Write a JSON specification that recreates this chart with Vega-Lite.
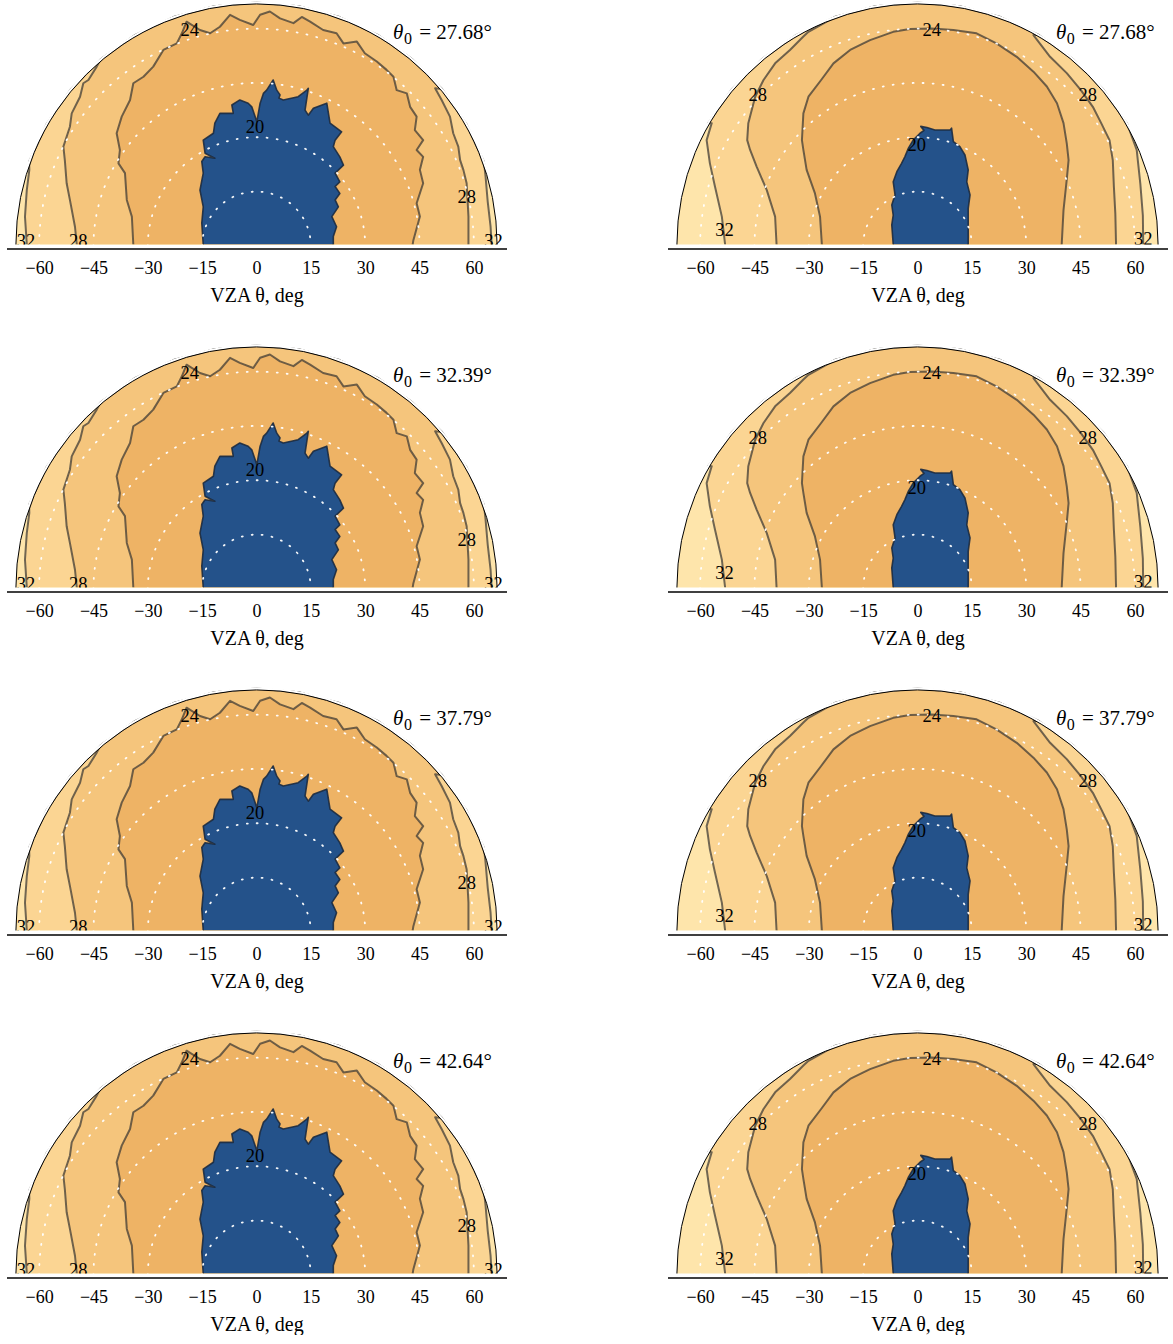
{
"$schema": "https://vega.github.io/schema/vega-lite/v6.json",
"padding": {"left": 6.5, "top": 1.5, "right": 0, "bottom": 0},
"background": "white",
"config": {
  "view": {"stroke": null},
  "font": "Liberation Serif",
  "axis": {"labelFontSize": 18, "labelColor": "black", "titleFontSize": 20, "titleFontWeight": "normal", "titleColor": "black", "domainColor": "black", "domainWidth": 1.5, "ticks": false, "grid": false, "labelPadding": 11, "titlePadding": 8, "labelFlush": false}
},
"datasets": {
  "one": [{"R": 66.4, "M": 67.05}],
  "rings": [{"r": 15}, {"r": 30}, {"r": 45}, {"r": 60}],
  "th": [{"v1": "= 27.68°", "v2": "= 32.39°", "v3": "= 37.79°", "v4": "= 42.64°", "w1": "= 27.68°", "w2": "= 32.39°", "w3": "= 37.79°", "w4": "= 42.64°"}],
  "L32": [{"x":-63.4,"y":0},{"x":-63.9,"y":7.7},{"x":-63.4,"y":15.0},{"x":-62.7,"y":20.6},{"x":-62.77,"y":22.85},{"x":-57.85,"y":33.4},{"x":-51.17,"y":42.94},{"x":-42.94,"y":51.17},{"x":-33.4,"y":57.85},{"x":-22.85,"y":62.77},{"x":-11.6,"y":65.79},{"x":0,"y":66.8},{"x":11.6,"y":65.79},{"x":22.85,"y":62.77},{"x":33.4,"y":57.85},{"x":42.94,"y":51.17},{"x":51.17,"y":42.94},{"x":57.85,"y":33.4},{"x":62.77,"y":22.85},{"x":63.2,"y":19},{"x":63.8,"y":12},{"x":64.6,"y":5},{"x":64.9,"y":0}],
  "L28": [{"x":-49.6,"y":0},{"x":-50.1,"y":4.9},{"x":-51.5,"y":12.3},{"x":-52.4,"y":16.9},{"x":-52.9,"y":23.3},{"x":-53.3,"y":27.0},{"x":-51.5,"y":32.5},{"x":-51.0,"y":36.2},{"x":-48.7,"y":40.8},{"x":-47.8,"y":44.5},{"x":-46.4,"y":45.4},{"x":-44.1,"y":49.1},{"x":-42.94,"y":51.17},{"x":-33.4,"y":57.85},{"x":-22.85,"y":62.77},{"x":-11.6,"y":65.79},{"x":0,"y":66.8},{"x":11.6,"y":65.79},{"x":22.85,"y":62.77},{"x":33.4,"y":57.85},{"x":42.94,"y":51.17},{"x":51.17,"y":42.94},{"x":49.3,"y":43.1},{"x":51.1,"y":39.9},{"x":53.4,"y":35.3},{"x":54.3,"y":30.7},{"x":55.7,"y":27.0},{"x":56.2,"y":23.3},{"x":57.1,"y":20.6},{"x":58.0,"y":16.9},{"x":58.5,"y":7.7},{"x":58.5,"y":0}],
  "L24": [{"x":-34.0,"y":0},{"x":-34.4,"y":7.7},{"x":-35.8,"y":12.3},{"x":-36.3,"y":19.7},{"x":-38.1,"y":22.4},{"x":-37.7,"y":26.1},{"x":-38.6,"y":30.7},{"x":-37.2,"y":35.3},{"x":-34.9,"y":39.9},{"x":-34.0,"y":44.5},{"x":-31.2,"y":46.3},{"x":-28.5,"y":49.1},{"x":-25.7,"y":53.7},{"x":-22.0,"y":55.5},{"x":-20.6,"y":58.3},{"x":-19.3,"y":61.5},{"x":-15.6,"y":59.2},{"x":-12.8,"y":58.3},{"x":-10.1,"y":60.1},{"x":-7.3,"y":63.4},{"x":-4.6,"y":62.0},{"x":-0.9,"y":60.6},{"x":1.0,"y":63.4},{"x":3.7,"y":64.3},{"x":6.5,"y":62.4},{"x":10.2,"y":61.1},{"x":12.5,"y":62.8},{"x":14.8,"y":61.5},{"x":18.4,"y":59.2},{"x":22.1,"y":58.3},{"x":24.0,"y":55.5},{"x":27.7,"y":56.0},{"x":29.9,"y":52.8},{"x":33.2,"y":50.5},{"x":35.9,"y":48.2},{"x":37.8,"y":46.3},{"x":38.7,"y":42.6},{"x":41.5,"y":41.7},{"x":42.4,"y":38.0},{"x":44.2,"y":35.3},{"x":43.7,"y":31.6},{"x":46.0,"y":28.8},{"x":44.2,"y":26.1},{"x":46.0,"y":24.2},{"x":45.1,"y":20.6},{"x":46.0,"y":16.9},{"x":44.2,"y":11.4},{"x":45.1,"y":7.7},{"x":43.3,"y":1.2},{"x":43.1,"y":0}],
  "L20": [{"x":-14.7,"y":0},{"x":-15.1,"y":5.9},{"x":-14.7,"y":10.4},{"x":-15.6,"y":15.0},{"x":-14.7,"y":19.7},{"x":-15.1,"y":22.9},{"x":-14.2,"y":24.2},{"x":-11.5,"y":23.8},{"x":-14.2,"y":25.2},{"x":-14.7,"y":28.8},{"x":-11.9,"y":30.7},{"x":-11.5,"y":33.5},{"x":-10.1,"y":36.2},{"x":-6.4,"y":36.2},{"x":-6.8,"y":38.5},{"x":-4.6,"y":39.9},{"x":-2.3,"y":39.0},{"x":-1.3,"y":38.0},{"x":0.1,"y":33.9},{"x":1.0,"y":39.0},{"x":1.9,"y":41.7},{"x":2.8,"y":42.6},{"x":4.6,"y":45.4},{"x":5.6,"y":42.6},{"x":6.5,"y":41.3},{"x":6.2,"y":40.4},{"x":7.4,"y":39.9},{"x":11.5,"y":40.8},{"x":13.9,"y":42.6},{"x":14.3,"y":43.1},{"x":13.4,"y":37.1},{"x":14.3,"y":35.7},{"x":15.7,"y":37.6},{"x":19.4,"y":39.0},{"x":20.3,"y":33.5},{"x":23.5,"y":31.1},{"x":21.7,"y":28.8},{"x":21.2,"y":27.0},{"x":23.0,"y":24.2},{"x":24.0,"y":21.9},{"x":21.7,"y":19.7},{"x":23.0,"y":17.3},{"x":21.7,"y":16.0},{"x":23.0,"y":14.1},{"x":21.7,"y":12.3},{"x":22.6,"y":10.4},{"x":20.8,"y":7.7},{"x":22.1,"y":4.9},{"x":21.2,"y":2.2},{"x":21.2,"y":0}],
  "Llab": [{"x":-18.4,"y":59.2,"t":"24"},{"x":-0.4,"y":32.5,"t":"20"},{"x":58.0,"y":13.2,"t":"28"},{"x":-49.2,"y":0.9,"t":"28"},{"x":-63.6,"y":0.9,"t":"32"},{"x":65.4,"y":0.9,"t":"32"}],
  "R32": [{"x":-53.1,"y":0},{"x":-54.0,"y":7.7},{"x":-55.9,"y":16.0},{"x":-57.3,"y":22.4},{"x":-58.2,"y":28.8},{"x":-56.8,"y":33.5},{"x":-57.85,"y":33.4},{"x":-51.17,"y":42.94},{"x":-42.94,"y":51.17},{"x":-33.4,"y":57.85},{"x":-22.85,"y":62.77},{"x":-11.6,"y":65.79},{"x":0,"y":66.8},{"x":11.6,"y":65.79},{"x":22.85,"y":62.77},{"x":33.4,"y":57.85},{"x":42.94,"y":51.17},{"x":51.17,"y":42.94},{"x":57.85,"y":33.4},{"x":60.5,"y":26.1},{"x":61.5,"y":16.8},{"x":62.2,"y":8},{"x":62.3,"y":0}],
  "R28": [{"x":-38.9,"y":0},{"x":-39.3,"y":7.7},{"x":-41.6,"y":15.0},{"x":-44.4,"y":21.5},{"x":-46.2,"y":26.1},{"x":-47.0,"y":28.8},{"x":-46.7,"y":33.5},{"x":-44.8,"y":40.8},{"x":-42.5,"y":45.4},{"x":-39.3,"y":50.0},{"x":-35.2,"y":53.7},{"x":-31.5,"y":57.4},{"x":-30.1,"y":58.7},{"x":-22.85,"y":62.77},{"x":-11.6,"y":65.79},{"x":0,"y":66.8},{"x":11.6,"y":65.79},{"x":22.85,"y":62.77},{"x":33.4,"y":57.85},{"x":32.0,"y":57.8},{"x":36.6,"y":51.8},{"x":41.2,"y":47.3},{"x":45.1,"y":42.6},{"x":48.4,"y":38.0},{"x":50.7,"y":33.5},{"x":53.0,"y":28.8},{"x":53.9,"y":23.3},{"x":54.2,"y":16},{"x":54.6,"y":8.6},{"x":54.8,"y":0}],
  "R24": [{"x":-26.4,"y":0},{"x":-26.9,"y":7.7},{"x":-28.3,"y":14.1},{"x":-30.6,"y":20.6},{"x":-31.5,"y":26.1},{"x":-31.9,"y":28.8},{"x":-31.5,"y":36.2},{"x":-30.1,"y":40.8},{"x":-26.6,"y":45.4},{"x":-23.2,"y":50.0},{"x":-18.6,"y":53.7},{"x":-13.1,"y":56.4},{"x":-6.7,"y":58.7},{"x":-2.1,"y":59.5},{"x":3.9,"y":59.6},{"x":9.9,"y":59.2},{"x":16.3,"y":58.3},{"x":21.8,"y":55.5},{"x":27.4,"y":51.8},{"x":32.0,"y":47.7},{"x":35.7,"y":43.6},{"x":38.5,"y":39.0},{"x":40.3,"y":33.5},{"x":41.2,"y":27.9},{"x":41.7,"y":23.3},{"x":41.2,"y":18},{"x":40.3,"y":9.5},{"x":39.8,"y":0}],
  "R20": [{"x":-6.7,"y":0},{"x":-7.1,"y":5.4},{"x":-6.7,"y":8.1},{"x":-7.1,"y":10.9},{"x":-6.2,"y":13.7},{"x":-6.7,"y":17.3},{"x":-5.7,"y":20.1},{"x":-4.4,"y":22.4},{"x":-3.5,"y":24.2},{"x":-2.5,"y":26.6},{"x":-1.2,"y":28.8},{"x":0.7,"y":30.7},{"x":1.8,"y":31.5},{"x":0.9,"y":32.6},{"x":2.6,"y":32.3},{"x":4.8,"y":31.6},{"x":9.0,"y":31.6},{"x":9.4,"y":32.1},{"x":9.9,"y":28.4},{"x":11.7,"y":27.0},{"x":13.1,"y":24.7},{"x":14.0,"y":20.6},{"x":13.6,"y":17.3},{"x":14.5,"y":13.7},{"x":14.0,"y":10.0},{"x":14.0,"y":5.4},{"x":14.0,"y":0}],
  "Rlab": [{"x":3.9,"y":59.2,"t":"24"},{"x":-0.2,"y":27.5,"t":"20"},{"x":-44.1,"y":41.2,"t":"28"},{"x":47.0,"y":41.3,"t":"28"},{"x":-53.3,"y":4.0,"t":"32"},{"x":62.3,"y":1.5,"t":"32"}]
},
"hconcat": [
{
  "repeat": {"row": ["v1", "v2", "v3", "v4"]},
  "spacing": 100,
  "bounds": "flush",
  "spec": {
    "width": 500, "height": 243,
    "layer": [
      {"data": {"name": "one"}, "mark": {"type": "arc", "theta": -1.5707963, "theta2": 1.5707963, "fill": "#FEE5AB"},
       "encoding": {"x": {"datum": 0, "type": "quantitative", "scale": {"domain": [-69, 69]}, "axis": {"values": [-60,-45,-30,-15,0,15,30,45,60], "title": "VZA θ, deg", "offset": 4}}, "y": {"datum": 0, "type": "quantitative", "scale": {"domain": [0, 67.07]}, "axis": null}, "radius": {"field": "R", "type": "quantitative", "stack": null, "scale": {"type": "linear", "domain": [0, 69], "range": [0, 250]}}}},
      {"data": {"name": "L32"}, "mark": {"type": "line", "fill": "#FBD593", "stroke": "#3a3733", "strokeWidth": 2, "strokeOpacity": 0.72, "strokeJoin": "round", "clip": true},
       "encoding": {"x": {"field": "x", "type": "quantitative", "scale": {"domain": [-69, 69]}, "axis": {"values": [-60,-45,-30,-15,0,15,30,45,60], "title": "VZA θ, deg", "offset": 4}}, "y": {"field": "y", "type": "quantitative", "scale": {"domain": [0, 67.07]}, "axis": null}, "order": {"value": null}}},
      {"data": {"name": "L28"}, "mark": {"type": "line", "fill": "#F5C57C", "stroke": "#3a3733", "strokeWidth": 2, "strokeOpacity": 0.72, "strokeJoin": "round", "clip": true},
       "encoding": {"x": {"field": "x", "type": "quantitative", "scale": {"domain": [-69, 69]}, "axis": {"values": [-60,-45,-30,-15,0,15,30,45,60], "title": "VZA θ, deg", "offset": 4}}, "y": {"field": "y", "type": "quantitative", "scale": {"domain": [0, 67.07]}, "axis": null}, "order": {"value": null}}},
      {"data": {"name": "L24"}, "mark": {"type": "line", "fill": "#EEB365", "stroke": "#3a3733", "strokeWidth": 2, "strokeOpacity": 0.72, "strokeJoin": "round", "clip": true},
       "encoding": {"x": {"field": "x", "type": "quantitative", "scale": {"domain": [-69, 69]}, "axis": {"values": [-60,-45,-30,-15,0,15,30,45,60], "title": "VZA θ, deg", "offset": 4}}, "y": {"field": "y", "type": "quantitative", "scale": {"domain": [0, 67.07]}, "axis": null}, "order": {"value": null}}},
      {"data": {"name": "L20"}, "mark": {"type": "line", "fill": "#24528A", "stroke": "#1c2b40", "strokeWidth": 1.6, "strokeOpacity": 0.9, "strokeJoin": "round", "clip": true},
       "encoding": {"x": {"field": "x", "type": "quantitative", "scale": {"domain": [-69, 69]}, "axis": {"values": [-60,-45,-30,-15,0,15,30,45,60], "title": "VZA θ, deg", "offset": 4}}, "y": {"field": "y", "type": "quantitative", "scale": {"domain": [0, 67.07]}, "axis": null}, "order": {"value": null}}},
      {"data": {"name": "rings"}, "mark": {"type": "arc", "theta": -1.5707963, "theta2": 1.5707963, "filled": false, "stroke": "white", "strokeWidth": 1.8, "strokeCap": "round", "strokeDash": [1, 9.0433], "strokeOpacity": 0.95, "clip": true},
       "encoding": {"x": {"datum": 0, "type": "quantitative", "scale": {"domain": [-69, 69]}, "axis": {"values": [-60,-45,-30,-15,0,15,30,45,60], "title": "VZA θ, deg", "offset": 4}}, "y": {"datum": -0.4, "type": "quantitative", "scale": {"domain": [0, 67.07]}, "axis": null}, "radius": {"field": "r", "type": "quantitative", "stack": null, "scale": {"type": "linear", "domain": [0, 69], "range": [0, 250]}}}},
      {"data": {"name": "one"}, "mark": {"type": "arc", "theta": -1.5707963, "theta2": 1.5707963, "fill": "white"},
       "encoding": {"x": {"datum": 0, "type": "quantitative", "scale": {"domain": [-69, 69]}, "axis": {"values": [-60,-45,-30,-15,0,15,30,45,60], "title": "VZA θ, deg", "offset": 4}}, "y": {"datum": 0, "type": "quantitative", "scale": {"domain": [0, 67.07]}, "axis": null}, "radius": {"field": "M", "type": "quantitative", "stack": null, "scale": {"type": "linear", "domain": [0, 69], "range": [0, 250]}}, "radius2": {"field": "R"}}},
      {"data": {"name": "one"}, "mark": {"type": "arc", "theta": 0, "theta2": 7, "filled": false, "stroke": "black", "strokeWidth": 1, "clip": true},
       "encoding": {"x": {"datum": 0, "type": "quantitative", "scale": {"domain": [-69, 69]}, "axis": {"values": [-60,-45,-30,-15,0,15,30,45,60], "title": "VZA θ, deg", "offset": 4}}, "y": {"datum": 0, "type": "quantitative", "scale": {"domain": [0, 67.07]}, "axis": null}, "radius": {"field": "R", "type": "quantitative", "stack": null, "scale": {"type": "linear", "domain": [0, 69], "range": [0, 250]}}}},
      {"data": {"name": "Llab"}, "mark": {"type": "text", "fontSize": 18.5, "baseline": "middle", "align": "center", "color": "black", "clip": true},
       "encoding": {"x": {"field": "x", "type": "quantitative", "scale": {"domain": [-69, 69]}, "axis": {"values": [-60,-45,-30,-15,0,15,30,45,60], "title": "VZA θ, deg", "offset": 4}}, "y": {"field": "y", "type": "quantitative", "scale": {"domain": [0, 67.07]}, "axis": null}, "text": {"field": "t"}}},
      {"data": {"name": "th"}, "mark": {"type": "text", "text": "θ", "fontStyle": "italic", "fontSize": 21, "align": "left", "baseline": "alphabetic", "color": "black"},
       "encoding": {"x": {"datum": 37.7, "type": "quantitative", "scale": {"domain": [-69, 69]}, "axis": {"values": [-60,-45,-30,-15,0,15,30,45,60], "title": "VZA θ, deg", "offset": 4}}, "y": {"datum": 56.6, "type": "quantitative", "scale": {"domain": [0, 67.07]}, "axis": null}}},
      {"data": {"name": "th"}, "mark": {"type": "text", "text": "0", "fontSize": 16, "align": "left", "baseline": "alphabetic", "color": "black"},
       "encoding": {"x": {"datum": 40.7, "type": "quantitative", "scale": {"domain": [-69, 69]}, "axis": {"values": [-60,-45,-30,-15,0,15,30,45,60], "title": "VZA θ, deg", "offset": 4}}, "y": {"datum": 55.4, "type": "quantitative", "scale": {"domain": [0, 67.07]}, "axis": null}}},
      {"data": {"name": "th"}, "mark": {"type": "text", "fontSize": 21, "align": "left", "baseline": "alphabetic", "color": "black"},
       "encoding": {"x": {"datum": 44.9, "type": "quantitative", "scale": {"domain": [-69, 69]}, "axis": {"values": [-60,-45,-30,-15,0,15,30,45,60], "title": "VZA θ, deg", "offset": 4}}, "y": {"datum": 56.6, "type": "quantitative", "scale": {"domain": [0, 67.07]}, "axis": null}, "text": {"field": {"repeat": "row"}}}}
    ]
  }
},
{
  "repeat": {"row": ["w1", "w2", "w3", "w4"]},
  "spacing": 100,
  "bounds": "flush",
  "spec": {
    "width": 500, "height": 243,
    "layer": [
      {"data": {"name": "one"}, "mark": {"type": "arc", "theta": -1.5707963, "theta2": 1.5707963, "fill": "#FEE5AB"},
       "encoding": {"x": {"datum": 0, "type": "quantitative", "scale": {"domain": [-69, 69]}, "axis": {"values": [-60,-45,-30,-15,0,15,30,45,60], "title": "VZA θ, deg", "offset": 4}}, "y": {"datum": 0, "type": "quantitative", "scale": {"domain": [0, 67.07]}, "axis": null}, "radius": {"field": "R", "type": "quantitative", "stack": null, "scale": {"type": "linear", "domain": [0, 69], "range": [0, 250]}}}},
      {"data": {"name": "R32"}, "mark": {"type": "line", "fill": "#FBD593", "stroke": "#3a3733", "strokeWidth": 2, "strokeOpacity": 0.72, "strokeJoin": "round", "clip": true},
       "encoding": {"x": {"field": "x", "type": "quantitative", "scale": {"domain": [-69, 69]}, "axis": {"values": [-60,-45,-30,-15,0,15,30,45,60], "title": "VZA θ, deg", "offset": 4}}, "y": {"field": "y", "type": "quantitative", "scale": {"domain": [0, 67.07]}, "axis": null}, "order": {"value": null}}},
      {"data": {"name": "R28"}, "mark": {"type": "line", "fill": "#F5C57C", "stroke": "#3a3733", "strokeWidth": 2, "strokeOpacity": 0.72, "strokeJoin": "round", "clip": true},
       "encoding": {"x": {"field": "x", "type": "quantitative", "scale": {"domain": [-69, 69]}, "axis": {"values": [-60,-45,-30,-15,0,15,30,45,60], "title": "VZA θ, deg", "offset": 4}}, "y": {"field": "y", "type": "quantitative", "scale": {"domain": [0, 67.07]}, "axis": null}, "order": {"value": null}}},
      {"data": {"name": "R24"}, "mark": {"type": "line", "fill": "#EEB365", "stroke": "#3a3733", "strokeWidth": 2, "strokeOpacity": 0.72, "strokeJoin": "round", "clip": true},
       "encoding": {"x": {"field": "x", "type": "quantitative", "scale": {"domain": [-69, 69]}, "axis": {"values": [-60,-45,-30,-15,0,15,30,45,60], "title": "VZA θ, deg", "offset": 4}}, "y": {"field": "y", "type": "quantitative", "scale": {"domain": [0, 67.07]}, "axis": null}, "order": {"value": null}}},
      {"data": {"name": "R20"}, "mark": {"type": "line", "fill": "#24528A", "stroke": "#1c2b40", "strokeWidth": 1.6, "strokeOpacity": 0.9, "strokeJoin": "round", "clip": true},
       "encoding": {"x": {"field": "x", "type": "quantitative", "scale": {"domain": [-69, 69]}, "axis": {"values": [-60,-45,-30,-15,0,15,30,45,60], "title": "VZA θ, deg", "offset": 4}}, "y": {"field": "y", "type": "quantitative", "scale": {"domain": [0, 67.07]}, "axis": null}, "order": {"value": null}}},
      {"data": {"name": "rings"}, "mark": {"type": "arc", "theta": -1.5707963, "theta2": 1.5707963, "filled": false, "stroke": "white", "strokeWidth": 1.8, "strokeCap": "round", "strokeDash": [1, 9.0433], "strokeOpacity": 0.95, "clip": true},
       "encoding": {"x": {"datum": 0, "type": "quantitative", "scale": {"domain": [-69, 69]}, "axis": {"values": [-60,-45,-30,-15,0,15,30,45,60], "title": "VZA θ, deg", "offset": 4}}, "y": {"datum": -0.4, "type": "quantitative", "scale": {"domain": [0, 67.07]}, "axis": null}, "radius": {"field": "r", "type": "quantitative", "stack": null, "scale": {"type": "linear", "domain": [0, 69], "range": [0, 250]}}}},
      {"data": {"name": "one"}, "mark": {"type": "arc", "theta": -1.5707963, "theta2": 1.5707963, "fill": "white"},
       "encoding": {"x": {"datum": 0, "type": "quantitative", "scale": {"domain": [-69, 69]}, "axis": {"values": [-60,-45,-30,-15,0,15,30,45,60], "title": "VZA θ, deg", "offset": 4}}, "y": {"datum": 0, "type": "quantitative", "scale": {"domain": [0, 67.07]}, "axis": null}, "radius": {"field": "M", "type": "quantitative", "stack": null, "scale": {"type": "linear", "domain": [0, 69], "range": [0, 250]}}, "radius2": {"field": "R"}}},
      {"data": {"name": "one"}, "mark": {"type": "arc", "theta": 0, "theta2": 7, "filled": false, "stroke": "black", "strokeWidth": 1, "clip": true},
       "encoding": {"x": {"datum": 0, "type": "quantitative", "scale": {"domain": [-69, 69]}, "axis": {"values": [-60,-45,-30,-15,0,15,30,45,60], "title": "VZA θ, deg", "offset": 4}}, "y": {"datum": 0, "type": "quantitative", "scale": {"domain": [0, 67.07]}, "axis": null}, "radius": {"field": "R", "type": "quantitative", "stack": null, "scale": {"type": "linear", "domain": [0, 69], "range": [0, 250]}}}},
      {"data": {"name": "Rlab"}, "mark": {"type": "text", "fontSize": 18.5, "baseline": "middle", "align": "center", "color": "black", "clip": true},
       "encoding": {"x": {"field": "x", "type": "quantitative", "scale": {"domain": [-69, 69]}, "axis": {"values": [-60,-45,-30,-15,0,15,30,45,60], "title": "VZA θ, deg", "offset": 4}}, "y": {"field": "y", "type": "quantitative", "scale": {"domain": [0, 67.07]}, "axis": null}, "text": {"field": "t"}}},
      {"data": {"name": "th"}, "mark": {"type": "text", "text": "θ", "fontStyle": "italic", "fontSize": 21, "align": "left", "baseline": "alphabetic", "color": "black"},
       "encoding": {"x": {"datum": 38.2, "type": "quantitative", "scale": {"domain": [-69, 69]}, "axis": {"values": [-60,-45,-30,-15,0,15,30,45,60], "title": "VZA θ, deg", "offset": 4}}, "y": {"datum": 56.6, "type": "quantitative", "scale": {"domain": [0, 67.07]}, "axis": null}}},
      {"data": {"name": "th"}, "mark": {"type": "text", "text": "0", "fontSize": 16, "align": "left", "baseline": "alphabetic", "color": "black"},
       "encoding": {"x": {"datum": 41.2, "type": "quantitative", "scale": {"domain": [-69, 69]}, "axis": {"values": [-60,-45,-30,-15,0,15,30,45,60], "title": "VZA θ, deg", "offset": 4}}, "y": {"datum": 55.4, "type": "quantitative", "scale": {"domain": [0, 67.07]}, "axis": null}}},
      {"data": {"name": "th"}, "mark": {"type": "text", "fontSize": 21, "align": "left", "baseline": "alphabetic", "color": "black"},
       "encoding": {"x": {"datum": 45.4, "type": "quantitative", "scale": {"domain": [-69, 69]}, "axis": {"values": [-60,-45,-30,-15,0,15,30,45,60], "title": "VZA θ, deg", "offset": 4}}, "y": {"datum": 56.6, "type": "quantitative", "scale": {"domain": [0, 67.07]}, "axis": null}, "text": {"field": {"repeat": "row"}}}}
    ]
  }
}
],
"spacing": 161,
"bounds": "full"
}
